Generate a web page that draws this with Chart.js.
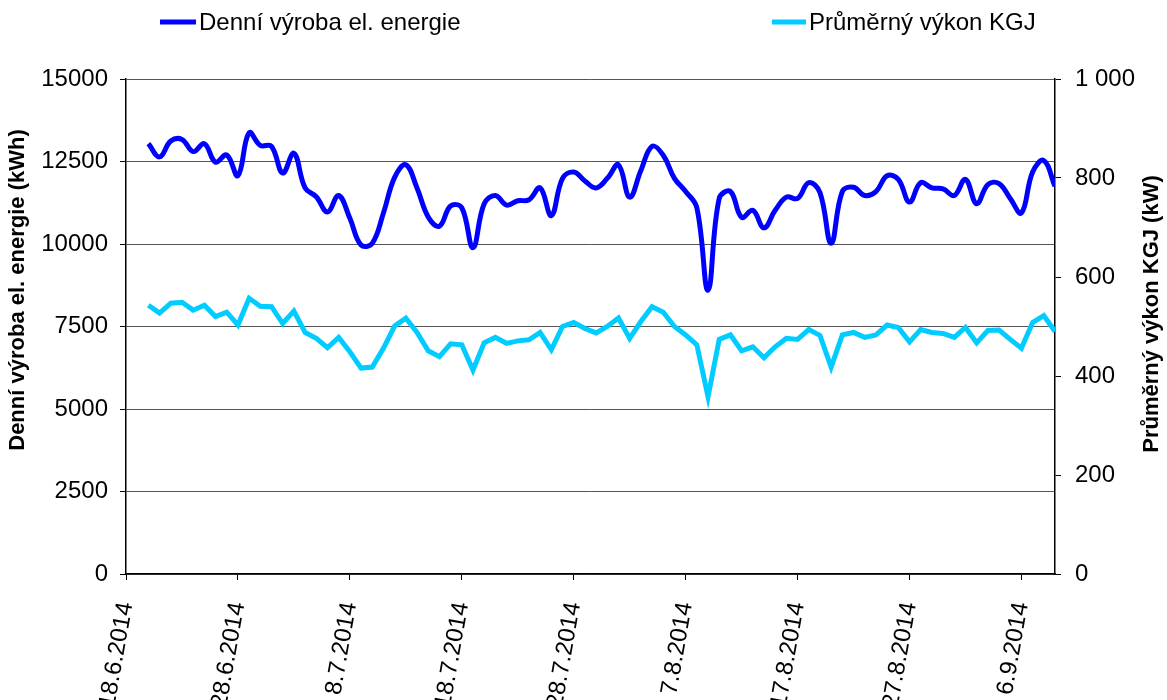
<!DOCTYPE html>
<html>
<head>
<meta charset="utf-8">
<title>Denní výroba el. energie</title>
<script src="https://cdn.jsdelivr.net/npm/chart.js@4.4.1/dist/chart.umd.min.js"></script>
<style>
    html, body { margin: 0; padding: 0; background: #fff; }
</style>
</head>
<body>
<canvas id="vyrobaChart" width="1167" height="700"></canvas>
<script>
// osa X: dny od 18.6.2014, popisky po 10 dnech
const prvniDen = 2;   // 20.6.2014
const posledniDen = 83; // 9.9.2014
const tickDny = [0, 10, 20, 30, 40, 50, 60, 70, 80];

const vyrobaTicks = ['0', '2500', '5000', '7500', '10000', '12500', '15000'];
const vykonTicks = ['0', '200', '400', '600', '800', '1 000'];

// Denní výroba el. energie (kWh)
const vyroba = [
    13040, 12640, 13120, 13170, 12800, 13040, 12480, 12700, 12070, 13370,
    12990, 12960, 12150, 12750, 11700, 11430, 10970, 11470, 10780, 9970,
    10020, 10940, 12020, 12400, 11700, 10820, 10540, 11150, 11100, 9890,
    11220, 11470, 11180, 11310, 11340, 11700, 10860, 11990, 12180, 11910,
    11700, 11990, 12400, 11420, 12230, 12960, 12690, 11990, 11590, 11100,
    8600, 11380, 11590, 10810, 11020, 10490, 11020, 11420, 11380, 11860,
    11560, 10020, 11590, 11720, 11470, 11590, 12070, 11960, 11270, 11860,
    11700, 11670, 11470, 11960, 11220, 11800, 11830, 11380, 10940, 12180,
    12530, 11750
];

// Průměrný výkon KGJ (kW)
const vykon = [
    543, 527, 547, 549, 533, 543, 520, 529, 503, 557,
    541, 540, 506, 531, 488, 476, 457, 478, 449, 416,
    418, 456, 501, 517, 488, 451, 439, 465, 463, 412,
    467, 478, 466, 471, 473, 488, 453, 500, 508, 496,
    487, 500, 517, 476, 510, 540, 529, 500, 483, 463,
    358, 474, 483, 451, 459, 437, 459, 476, 474, 494,
    482, 418, 483, 488, 478, 483, 503, 498, 469, 494,
    488, 486, 478, 498, 467, 492, 493, 474, 456, 508,
    522, 490
];

const dny = vyroba.map((_, i) => prvniDen + i);

function datum(den) {
    const d = new Date(2014, 5, 18 + den);
    return d.getDate() + '.' + (d.getMonth() + 1) + '.' + d.getFullYear();
}

Chart.defaults.font.family = "'Liberation Sans', Arial, sans-serif";
Chart.defaults.color = '#000';

// legenda a názvy os kreslené ručně (legenda je rozložená po šířce)
const popisky = {
    id: 'popisky',
    afterDraw(chart) {
        const ctx = chart.ctx;
        ctx.save();
        ctx.lineCap = 'butt';
        ctx.lineWidth = 5;
        ctx.strokeStyle = '#0000ff';
        ctx.beginPath(); ctx.moveTo(160, 22); ctx.lineTo(196, 22); ctx.stroke();
        ctx.strokeStyle = '#00ccff';
        ctx.beginPath(); ctx.moveTo(772, 22); ctx.lineTo(806, 22); ctx.stroke();

        ctx.fillStyle = '#000';
        ctx.font = "24px 'Liberation Sans', Arial, sans-serif";
        ctx.textBaseline = 'middle';
        ctx.textAlign = 'left';
        ctx.fillText('Denní výroba el. energie', 199, 23);
        ctx.fillText('Průměrný výkon KGJ', 809, 23);

        ctx.font = "bold 22px 'Liberation Sans', Arial, sans-serif";
        ctx.textAlign = 'center';
        ctx.translate(18, 290);
        ctx.rotate(-Math.PI / 2);
        ctx.fillText('Denní výroba el. energie (kWh)', 0, 0);
        ctx.restore();

        ctx.save();
        ctx.fillStyle = '#000';
        ctx.font = "bold 22px 'Liberation Sans', Arial, sans-serif";
        ctx.textAlign = 'center';
        ctx.textBaseline = 'middle';
        ctx.translate(1152, 314);
        ctx.rotate(-Math.PI / 2);
        ctx.fillText('Průměrný výkon KGJ (kW)', 0, 0);
        ctx.restore();
    }
};

const ctx = document.getElementById('vyrobaChart').getContext('2d');
new Chart(ctx, {
    type: 'line',
    data: {
        datasets: [{
            label: 'Denní výroba el. energie',
            data: dny.map((d, i) => ({ x: d, y: vyroba[i] })),
            borderColor: '#0000ff',
            borderWidth: 5,
            tension: 0.4,
            pointRadius: 0,
            yAxisID: 'y'
        }, {
            label: 'Průměrný výkon KGJ',
            data: dny.map((d, i) => ({ x: d, y: vykon[i] })),
            borderColor: '#00ccff',
            borderWidth: 5,
            tension: 0,
            pointRadius: 0,
            yAxisID: 'y1'
        }]
    },
    options: {
        responsive: false,
        animation: false,
        layout: { padding: { top: 79, left: 0, right: 0, bottom: 0 } },
        plugins: {
            legend: { display: false },
            tooltip: { enabled: false }
        },
        scales: {
            x: {
                type: 'linear',
                min: 0,
                max: posledniDen,
                afterBuildTicks: s => { s.ticks = tickDny.map(v => ({ value: v })); },
                afterFit: s => { s.height = 126; },
                ticks: {
                    callback: v => datum(v),
                    autoSkip: false,
                    minRotation: 80,
                    maxRotation: 80,
                    padding: 20,
                    font: { size: 24 }
                },
                grid: { drawOnChartArea: false, tickLength: 6, color: '#000' },
                border: { color: '#000', width: 1.5 }
            },
            y: {
                position: 'left',
                min: 0,
                max: 15000,
                afterFit: s => { s.width = 126; },
                ticks: {
                    stepSize: 2500,
                    callback: (v, i) => vyrobaTicks[i],
                    padding: 12,
                    font: { size: 24 }
                },
                grid: { color: '#555', tickColor: '#000', tickLength: 6 },
                border: { color: '#000', width: 1.5 }
            },
            y1: {
                position: 'right',
                min: 0,
                max: 1000,
                afterFit: s => { s.width = 112; },
                ticks: {
                    stepSize: 200,
                    callback: (v, i) => vykonTicks[i],
                    padding: 14,
                    font: { size: 24 }
                },
                grid: { drawOnChartArea: false, tickColor: '#000', tickLength: 6 },
                border: { color: '#000', width: 1.5 }
            }
        }
    },
    plugins: [popisky]
});
</script>
</body>
</html>
